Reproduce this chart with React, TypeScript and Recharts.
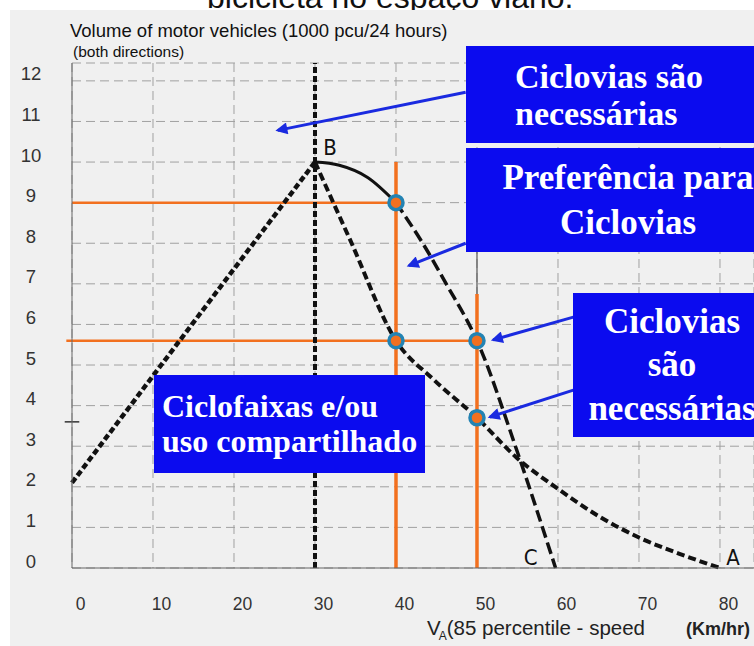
import React from 'react';
import {
  CartesianGrid,
  ComposedChart,
  Line,
  ReferenceLine,
  Scatter,
  XAxis,
  YAxis,
} from 'recharts';

// axis ticks
const xTicks = [0, 10, 20, 30, 40, 50, 60, 70, 80];
const yTicks = [0, 1, 2, 3, 4, 5, 6, 7, 8, 9, 10, 11, 12];

// curves (speed km/h, volume 1000 pcu/24h)
const lineOB = [
  { x: 0, y: 2.1 },
  { x: 30, y: 10 },
];
const curveBCSolid = [
  { x: 30, y: 10 },
  { x: 33, y: 9.92 },
  { x: 36.5, y: 9.62 },
  { x: 40, y: 9 },
];
const curveBCDashed = [
  { x: 40, y: 9 },
  { x: 43.3, y: 8 },
  { x: 46.2, y: 7 },
  { x: 50, y: 5.6 },
  { x: 55, y: 2.85 },
  { x: 59.7, y: 0 },
];
const curveBA = [
  { x: 30, y: 10 },
  { x: 34.3, y: 8.1 },
  { x: 40, y: 5.6 },
  { x: 44.6, y: 4.65 },
  { x: 50, y: 3.7 },
  { x: 55, y: 2.7 },
  { x: 60, y: 1.95 },
  { x: 65, y: 1.28 },
  { x: 70, y: 0.75 },
  { x: 75, y: 0.35 },
  { x: 80, y: 0 },
];
const speedLimitX = 30;

// orange guides and the points they meet
const guideH = [
  { y: 9, x1: 0, x2: 40 },
  { y: 5.6, x1: -0.7, x2: 50 },
];
const guideV = [
  { x: 40, y1: 0, y2: 10 },
  { x: 50, y1: 0, y2: 6.75 },
];
const markers = [
  { x: 40, y: 9 },
  { x: 40, y: 5.6 },
  { x: 50, y: 5.6 },
  { x: 50, y: 3.7 },
];
const curveLabels = [
  { name: 'B', x: 30, y: 10 },
  { name: 'C', x: 59.7, y: 0 },
  { name: 'A', x: 80, y: 0 },
];

// blue callout arrows (from box to target, data coords)
const arrows = [
  { x1: 48.6, y1: 11.72, x2: 25.4, y2: 10.78 },
  { x1: 48.6, y1: 8.0, x2: 41.6, y2: 7.45 },
  { x1: 61.9, y1: 6.18, x2: 52.0, y2: 5.62 },
  { x1: 61.9, y1: 4.38, x2: 51.6, y2: 3.72 },
];

const boxLines1 = ['Ciclovias são', 'necessárias'];
const boxLines2 = ['Preferência para', 'Ciclovias'];
const boxLines3 = ['Ciclovias', 'são', 'necessárias'];
const boxLines4 = ['Ciclofaixas e/ou', 'uso compartilhado'];

const SANS = "'Liberation Sans', Arial, sans-serif";
const SERIF = "'Liberation Serif', 'Times New Roman', serif";
const ORANGE = '#f2701f';
const BLUE = '#0b0bef';
const ARROW = '#1a2ae0';

const labelOffsets: Record<string, [number, number]> = {
  B: [15, -15],
  C: [-25, -11],
  A: [13, -11],
};

const YTick = (props: any) => (
  <text
    x={31}
    y={props.y - 7}
    textAnchor="middle"
    dominantBaseline="central"
    fontSize={18.5}
    fill="#333"
    fontFamily={SANS}
  >
    {props.payload.value}
  </text>
);

const XTick = (props: any) => (
  <text
    x={props.x + 8.5}
    y={604}
    textAnchor="middle"
    dominantBaseline="central"
    fontSize={17.5}
    fill="#333"
    fontFamily={SANS}
  >
    {props.payload.value}
  </text>
);

const Marker = (props: any) => (
  <circle cx={props.cx} cy={props.cy} r={7} fill={ORANGE} stroke="#2383b3" strokeWidth={3.5} />
);

const CurveLabel = (props: any) => {
  const name = props.payload?.name ?? props.name;
  const [dx, dy] = labelOffsets[name] ?? [0, 0];
  return (
    <text
      x={props.cx + dx}
      y={props.cy + dy}
      textAnchor="middle"
      dominantBaseline="central"
      fontSize={22}
      fill="#111"
      fontFamily="'DejaVu Sans Condensed', 'Liberation Sans Narrow', Arial, sans-serif"
    >
      {name}
    </text>
  );
};

function Box({
  lines,
  left,
  top,
  width,
  height,
  fontSize,
  lineHeight,
  align,
  padLeft = 0,
}: {
  lines: string[];
  left: number;
  top: number;
  width: number;
  height: number;
  fontSize: number;
  lineHeight: number;
  align: 'left' | 'center';
  padLeft?: number;
}) {
  return (
    <div
      style={{
        position: 'absolute',
        left,
        top,
        width,
        height,
        background: BLUE,
        color: '#fff',
        fontFamily: SERIF,
        fontWeight: 'bold',
        fontSize,
        lineHeight: `${lineHeight}px`,
        textAlign: align,
        display: 'flex',
        flexDirection: 'column',
        justifyContent: 'center',
        paddingLeft: padLeft,
        boxSizing: 'border-box',
        whiteSpace: 'nowrap',
      }}
    >
      {lines.map((l) => (
        <div key={l}>{l}</div>
      ))}
    </div>
  );
}

export default function App() {
  return (
    <div
      style={{
        position: 'absolute',
        left: 0,
        top: 0,
        width: 754,
        height: 646,
        overflow: 'hidden',
        background: '#fff',
      }}
    >
      <svg width={754} height={646} style={{ position: 'absolute', left: 0, top: 0 }}>
        <text x={207} y={8} fontSize={32} fontFamily={SANS} fill="#111">
          bicicleta no espaço viário.
        </text>
      </svg>
      <div
        style={{
          position: 'absolute',
          left: 10,
          top: 10,
          width: 744,
          height: 636,
          background: '#f0f0f0',
        }}
      />
      <div style={{ position: 'absolute', left: 0, top: 0 }}>
        <ComposedChart width={754} height={646} margin={{ top: 63, right: 0, left: 12, bottom: 48 }}>
          <defs>
            <marker
              id="arrow-head"
              viewBox="0 0 10 10"
              refX="8"
              refY="5"
              markerWidth="4.5"
              markerHeight="4"
              orient="auto"
              markerUnits="strokeWidth"
            >
              <path d="M0,0 L10,5 L0,10 z" fill={ARROW} />
            </marker>
          </defs>
          <CartesianGrid stroke="#a0a0a0" strokeDasharray="9 5" />
          <XAxis
            type="number"
            dataKey="x"
            domain={[0, 84.2]}
            ticks={xTicks}
            interval={0}
            height={30}
            tickLine={false}
            axisLine={{ stroke: '#666' }}
            tick={<XTick />}
          />
          <YAxis
            type="number"
            dataKey="y"
            domain={[0, 12.44]}
            ticks={yTicks}
            interval={0}
            width={60}
            tickLine={false}
            axisLine={{ stroke: '#666' }}
            tick={<YTick />}
          />
          {guideH.map((g, i) => (
            <ReferenceLine
              key={`gh${i}`}
              segment={[
                { x: g.x1, y: g.y },
                { x: g.x2, y: g.y },
              ]}
              stroke={ORANGE}
              strokeWidth={2.5}
              ifOverflow="visible"
            />
          ))}
          {guideV.map((g, i) => (
            <ReferenceLine
              key={`gv${i}`}
              segment={[
                { x: g.x, y: g.y1 },
                { x: g.x, y: g.y2 },
              ]}
              stroke={ORANGE}
              strokeWidth={3.5}
              ifOverflow="visible"
            />
          ))}
          <ReferenceLine
            segment={[
              { x: 50, y: 6.75 },
              { x: 50, y: 7.9 },
            ]}
            stroke="#555"
            strokeWidth={1.2}
          />
          <ReferenceLine
            segment={[
              { x: -0.9, y: 3.6 },
              { x: 0.9, y: 3.6 },
            ]}
            stroke="#333"
            strokeWidth={1.5}
            ifOverflow="visible"
          />
          <ReferenceLine x={speedLimitX} stroke="#111" strokeWidth={4} strokeDasharray="6 3" />
          <Line
            data={lineOB}
            dataKey="y"
            type="linear"
            stroke="#111"
            strokeWidth={4.5}
            strokeDasharray="6 3"
            dot={false}
            isAnimationActive={false}
          />
          <Line
            data={curveBA}
            dataKey="y"
            type="monotone"
            stroke="#111"
            strokeWidth={4}
            strokeDasharray="8 4"
            dot={false}
            isAnimationActive={false}
          />
          <Line
            data={curveBCDashed}
            dataKey="y"
            type="monotone"
            stroke="#111"
            strokeWidth={3.5}
            strokeDasharray="12 5"
            dot={false}
            isAnimationActive={false}
          />
          <Line
            data={curveBCSolid}
            dataKey="y"
            type="monotone"
            stroke="#111"
            strokeWidth={3}
            dot={false}
            isAnimationActive={false}
          />
          {arrows.map((a, i) => (
            <ReferenceLine
              key={`ar${i}`}
              segment={[
                { x: a.x1, y: a.y1 },
                { x: a.x2, y: a.y2 },
              ]}
              stroke={ARROW}
              strokeWidth={3}
              markerEnd="url(#arrow-head)"
              ifOverflow="visible"
            />
          ))}
          <Scatter data={markers} shape={<Marker />} isAnimationActive={false} />
          <Scatter data={curveLabels} shape={<CurveLabel />} isAnimationActive={false} />
        </ComposedChart>
      </div>
      <svg
        width={754}
        height={646}
        style={{ position: 'absolute', left: 0, top: 0, pointerEvents: 'none' }}
        fontFamily={SANS}
      >
        <text x={70} y={37} fontSize={18.5} fill="#111">
          Volume of motor vehicles (1000 pcu/24 hours)
        </text>
        <text x={73} y={57} fontSize={15.5} fill="#111">
          (both directions)
        </text>
        <text x={427} y={635} fontSize={20.5} fill="#222">
          V
          <tspan fontSize={12} dx={-2} dy={5}>
            A
          </tspan>
          <tspan dy={-5} dx={0}>
            (85 percentile - speed
          </tspan>
          <tspan x={686} fontSize={18} fontWeight="bold">
            (Km/hr)
          </tspan>
        </text>
      </svg>
      <Box lines={boxLines1} left={466} top={46} width={320} height={97} fontSize={34} lineHeight={37} align="left" padLeft={49} />
      <Box lines={boxLines2} left={466} top={148} width={324} height={104} fontSize={35} lineHeight={45} align="center" />
      <Box lines={boxLines3} left={573} top={293} width={198} height={144} fontSize={35} lineHeight={43.5} align="center" />
      <Box lines={boxLines4} left={154} top={375} width={271} height={98} fontSize={32} lineHeight={35} align="left" padLeft={8} />
    </div>
  );
}
